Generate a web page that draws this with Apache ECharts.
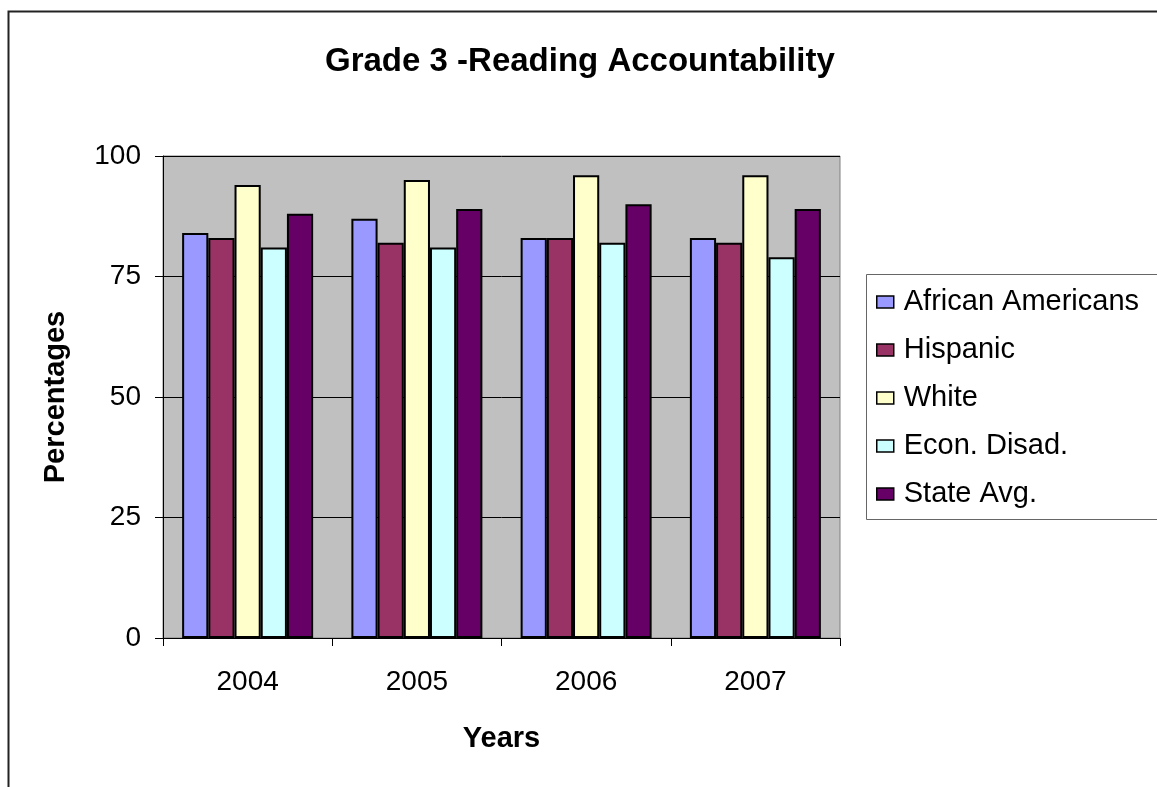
<!DOCTYPE html>
<html>
<head>
<meta charset="utf-8">
<script src="https://cdn.jsdelivr.net/npm/echarts@6/dist/echarts.min.js"></script>
<style>
  html, body { margin: 0; padding: 0; background: #fff; }
  #chart { width: 1157px; height: 787px; }
</style>
</head>
<body>
<div id="chart"></div>
<script>
// 数据
const years = ['2004', '2005', '2006', '2007']
const africanAmericans = [84, 87, 83, 83]
const hispanic = [83, 82, 83, 82]
const white = [94, 95, 96, 96]
const econDisad = [81, 81, 82, 79]
const stateAvg = [88, 89, 90, 89]

const seriesNames = ['African Americans', 'Hispanic', 'White', 'Econ. Disad.', 'State Avg.']
const seriesData = [africanAmericans, hispanic, white, econDisad, stateAvg]
const colors = ['#9999FF', '#993366', '#FFFFCC', '#CCFFFF', '#660066']

const font = 'Liberation Sans, Arial, sans-serif'
const chart = echarts.init(document.getElementById('chart'))

const option = {
  animation: false,
  title: {
    text: 'Grade 3 -Reading Accountability',
    left: 325,
    top: 45,
    padding: 0,
    textStyle: { fontFamily: font, fontSize: 33, fontWeight: 'bold', color: '#000' }
  },
  graphic: [
    {
      // 外框
      type: 'rect',
      shape: { x: 8.5, y: 11.5, width: 1300, height: 900 },
      style: { fill: 'none', stroke: '#222', lineWidth: 2 },
      silent: true
    },
    {
      // 图例框
      type: 'rect',
      shape: { x: 866.5, y: 274.5, width: 400, height: 245 },
      style: { fill: '#fff', stroke: '#666', lineWidth: 1 },
      silent: true,
      z: 0
    }
  ],
  legend: {
    orient: 'vertical',
    left: 876,
    top: 285,
    padding: 0,
    itemWidth: 17,
    itemHeight: 12,
    itemGap: 14,
    icon: 'rect',
    itemStyle: { borderColor: '#000', borderWidth: 1.5 },
    textStyle: { fontFamily: font, fontSize: 29, color: '#000', lineHeight: 34, padding: [0, 0, 0, 5] },
    data: seriesNames
  },
  grid: {
    left: 163,
    right: 317,
    top: 156,
    bottom: 149,
    show: true,
    backgroundColor: '#C0C0C0',
    borderColor: '#808080',
    borderWidth: 1
  },
  xAxis: {
    type: 'category',
    data: years,
    name: 'Years',
    nameLocation: 'middle',
    nameGap: 86,
    nameTextStyle: { fontFamily: font, fontSize: 29, fontWeight: 'bold', color: '#000' },
    axisLine: { lineStyle: { color: '#000', width: 1 } },
    axisTick: { show: true, length: 8, lineStyle: { color: '#000' } },
    axisLabel: { fontFamily: font, fontSize: 28, color: '#000', margin: 30 },
    splitLine: { show: false }
  },
  yAxis: {
    type: 'value',
    min: 0,
    max: 100,
    interval: 25,
    name: 'Percentages',
    nameLocation: 'middle',
    nameGap: 93,
    nameTextStyle: { fontFamily: font, fontSize: 29, fontWeight: 'bold', color: '#000' },
    axisLine: { show: true, lineStyle: { color: '#000', width: 1 } },
    axisTick: { show: true, length: 8, lineStyle: { color: '#000' } },
    axisLabel: { fontFamily: font, fontSize: 28, color: '#000', margin: 22 },
    splitLine: { show: true, lineStyle: { color: '#000', width: 1 } }
  },
  series: seriesNames.map((name, i) => ({
    name: name,
    type: 'bar',
    data: seriesData[i],
    barGap: '0%',
    barCategoryGap: '22.6%',
    itemStyle: { color: colors[i], borderColor: '#000', borderWidth: 2 }
  }))
}

chart.setOption(option)
</script>
</body>
</html>
